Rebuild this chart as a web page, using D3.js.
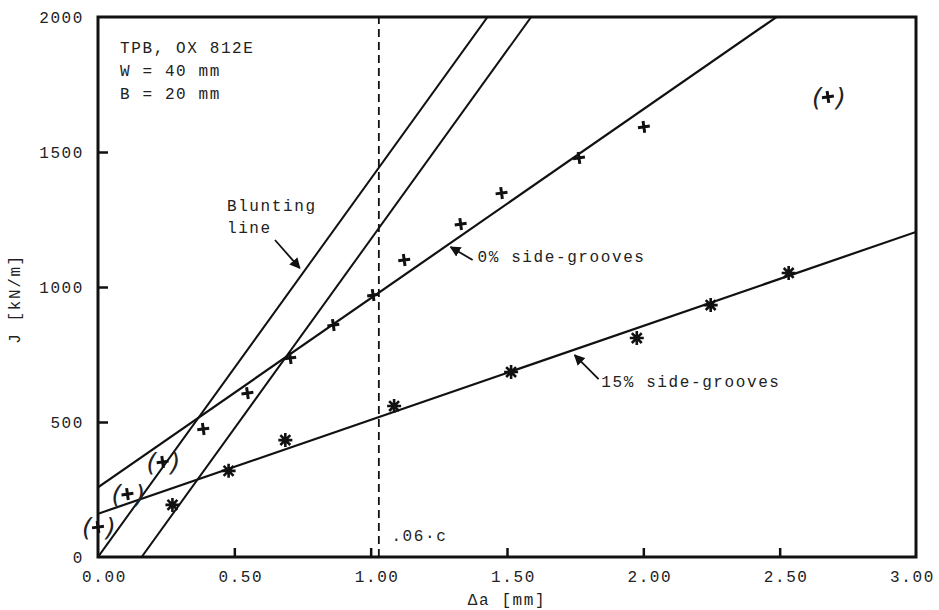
<!DOCTYPE html>
<html>
<head>
<meta charset="utf-8">
<script src="https://cdn.jsdelivr.net/npm/d3@7"></script>
<style>
  body { margin: 0; background: #fff; }
  text { font-family: "Liberation Mono", "DejaVu Sans Mono", monospace; fill: #222; }
</style>
</head>
<body>
<div id="graph_area"></div>
<script>
// Data
const xTicks = [0, 0.5, 1, 1.5, 2, 2.5, 3];
const yTicks = [0, 500, 1000, 1500, 2000];

// 0% side-grooves (+)
const groove0DA = [0.386, 0.548, 0.705, 0.863, 1.009, 1.123, 1.33, 1.48, 1.764, 2.002];
const groove0J = [474, 607, 737, 859, 970, 1100, 1233, 1348, 1478, 1593];
// 0% side-grooves, excluded points shown as (+)
const excludedDA = [0.0, 0.108, 0.237, 2.677];
const excludedJ = [111, 233, 352, 1704];
// 15% side-grooves (*)
const groove15DA = [0.273, 0.479, 0.687, 1.086, 1.515, 1.976, 2.247, 2.533];
const groove15J = [193, 319, 433, 559, 685, 811, 933, 1052];

// Fitted lines J = a + b*da
const fit0 = [258, 700];
const fit15 = [160, 348];
// Blunting lines J = slope*(da - offset)
const bluntSlope = 1400;
const bluntOffsets = [0, 0.16];
// .06*c limit
const limitDA = 1.03;

// Draw area values
const margin = { top: 17, right: 23, bottom: 53, left: 98 };
const width = 939 - margin.left - margin.right;
const height = 610 - margin.top - margin.bottom;

const svg = d3.select('#graph_area')
  .append('svg')
    .attr('width', 939)
    .attr('height', 610)
  .append('g')
    .attr('transform', `translate(${margin.left},${margin.top})`);

const x = d3.scaleLinear().domain([0, 3]).range([0, width]);
const y = d3.scaleLinear().domain([0, 2000]).range([height, 0]);

svg.append('defs').append('clipPath').attr('id', 'plotclip')
  .append('rect').attr('width', width).attr('height', height);

svg.select('defs').append('marker')
  .attr('id', 'arrow')
  .attr('viewBox', '0 0 10 10')
  .attr('refX', 9).attr('refY', 5)
  .attr('markerWidth', 6).attr('markerHeight', 6)
  .attr('orient', 'auto')
  .append('path').attr('d', 'M0,0L10,5L0,10z').attr('fill', '#111');

const txt = { 'font-size': '16px', 'letter-spacing': '1.6px' };
function styleText(sel) {
  Object.entries(txt).forEach(([k, v]) => sel.style(k, v));
  return sel;
}

// X axis
const xAxis = svg.append('g')
  .attr('transform', `translate(0,${height})`)
  .call(d3.axisBottom(x).tickValues(xTicks).tickFormat(d3.format('.2f'))
    .tickSizeInner(-9).tickSizeOuter(0).tickPadding(14));
xAxis.select('.domain').remove();
xAxis.selectAll('line').attr('stroke', '#111').attr('stroke-width', 2.5)
  .filter(d => d === 0 || d === 3).remove();
xAxis.selectAll('text').attr('dx', d => d === 3 ? -4 : 6).call(styleText);

// Y axis
const yAxis = svg.append('g')
  .call(d3.axisLeft(y).tickValues(yTicks).tickFormat(d3.format('d'))
    .tickSizeInner(-10).tickSizeOuter(0).tickPadding(14));
yAxis.select('.domain').remove();
yAxis.selectAll('line').attr('stroke', '#111').attr('stroke-width', 2.5)
  .filter(d => d === 0 || d === 2000).remove();
yAxis.selectAll('text').attr('dy', '0.35em').call(styleText);

// Frame
svg.append('rect')
  .attr('width', width).attr('height', height)
  .attr('fill', 'none').attr('stroke', '#111').attr('stroke-width', 3);

// Axis titles
styleText(svg.append('text')
  .attr('x', x(1.5)).attr('y', height + 48)
  .attr('text-anchor', 'middle')
  .text('Δa [mm]'));
styleText(svg.append('text')
  .attr('transform', `translate(${-78},${y(1000) + 12}) rotate(-90)`)
  .attr('text-anchor', 'middle')
  .style('font-size', '14px')
  .text('J [kN/m]'));

const plot = svg.append('g').attr('clip-path', 'url(#plotclip)');
const line = d3.line().x(d => x(d[0])).y(d => y(d[1]));

// Blunting lines
bluntOffsets.forEach(off => {
  plot.append('path')
    .datum([[off, 0], [3, bluntSlope * (3 - off)]])
    .attr('fill', 'none').attr('stroke', '#111').attr('stroke-width', 2)
    .attr('d', line);
});

// Fit lines
[fit0, fit15].forEach(f => {
  plot.append('path')
    .datum([[0, f[0]], [3, f[0] + 3 * f[1]]])
    .attr('fill', 'none').attr('stroke', '#111').attr('stroke-width', 2.2)
    .attr('d', line);
});

// .06 c dashed line
plot.append('path')
  .datum([[limitDA, 0], [limitDA, 2000]])
  .attr('fill', 'none').attr('stroke', '#111').attr('stroke-width', 1.8)
  .attr('stroke-dasharray', '8,5')
  .attr('d', line);

// Markers
const plusPath = 'M-6,0H6M0,-6V6';
const starPath = d3.range(4).map(i => {
  const a = i * Math.PI / 4;
  const c = Math.cos(a) * 7, s = Math.sin(a) * 7;
  return `M${-c},${-s}L${c},${s}`;
}).join('');

svg.append('g').selectAll('path')
  .data(groove0DA.map((d, i) => [d, groove0J[i]]))
  .join('path')
    .attr('transform', d => `translate(${x(d[0])},${y(d[1])}) rotate(-8)`)
    .attr('d', plusPath)
    .attr('stroke', '#111').attr('stroke-width', 3);

const excl = svg.append('g').selectAll('g')
  .data(excludedDA.map((d, i) => [d, excludedJ[i]]))
  .join('g')
    .attr('transform', d => `translate(${x(d[0])},${y(d[1])})`);
excl.append('path').attr('d', plusPath).attr('transform', 'rotate(-8)')
  .attr('stroke', '#111').attr('stroke-width', 3);
excl.append('text').attr('x', -16).attr('y', 9).text('(')
  .style('font-family', 'DejaVu Sans').style('font-style', 'italic')
  .style('font-size', '25px');
excl.append('text').attr('x', 8).attr('y', 9).text(')')
  .style('font-family', 'DejaVu Sans').style('font-style', 'italic')
  .style('font-size', '25px');

svg.append('g').selectAll('path')
  .data(groove15DA.map((d, i) => [d, groove15J[i]]))
  .join('path')
    .attr('transform', d => `translate(${x(d[0])},${y(d[1])})`)
    .attr('d', starPath)
    .attr('stroke', '#111').attr('stroke-width', 2.6);

// Annotations
[['TPB, OX 812E', 1867], ['W = 40 mm', 1781], ['B = 20 mm', 1696]].forEach(t => {
  styleText(svg.append('text').attr('x', x(0.081)).attr('y', y(t[1])).text(t[0]));
});
styleText(svg.append('text').attr('x', x(0.473)).attr('y', y(1281)).text('Blunting'));
styleText(svg.append('text').attr('x', x(0.473)).attr('y', y(1200)).text('line'));
styleText(svg.append('text').attr('x', x(1.392)).attr('y', y(1093)).text('0% side-grooves'));
styleText(svg.append('text').attr('x', x(1.846)).attr('y', y(630)).text('15% side-grooves'));
styleText(svg.append('text').attr('x', x(1.076)).attr('y', y(59)).text('.06·c'));

const arrows = [
  [[0.649, 1174], [0.74, 1070]],
  [[1.374, 1100], [1.293, 1148]],
  [[1.836, 659], [1.748, 748]],
];
arrows.forEach(a => {
  svg.append('path')
    .datum(a)
    .attr('fill', 'none').attr('stroke', '#111').attr('stroke-width', 1.8)
    .attr('marker-end', 'url(#arrow)')
    .attr('d', line);
});
</script>
</body>
</html>
